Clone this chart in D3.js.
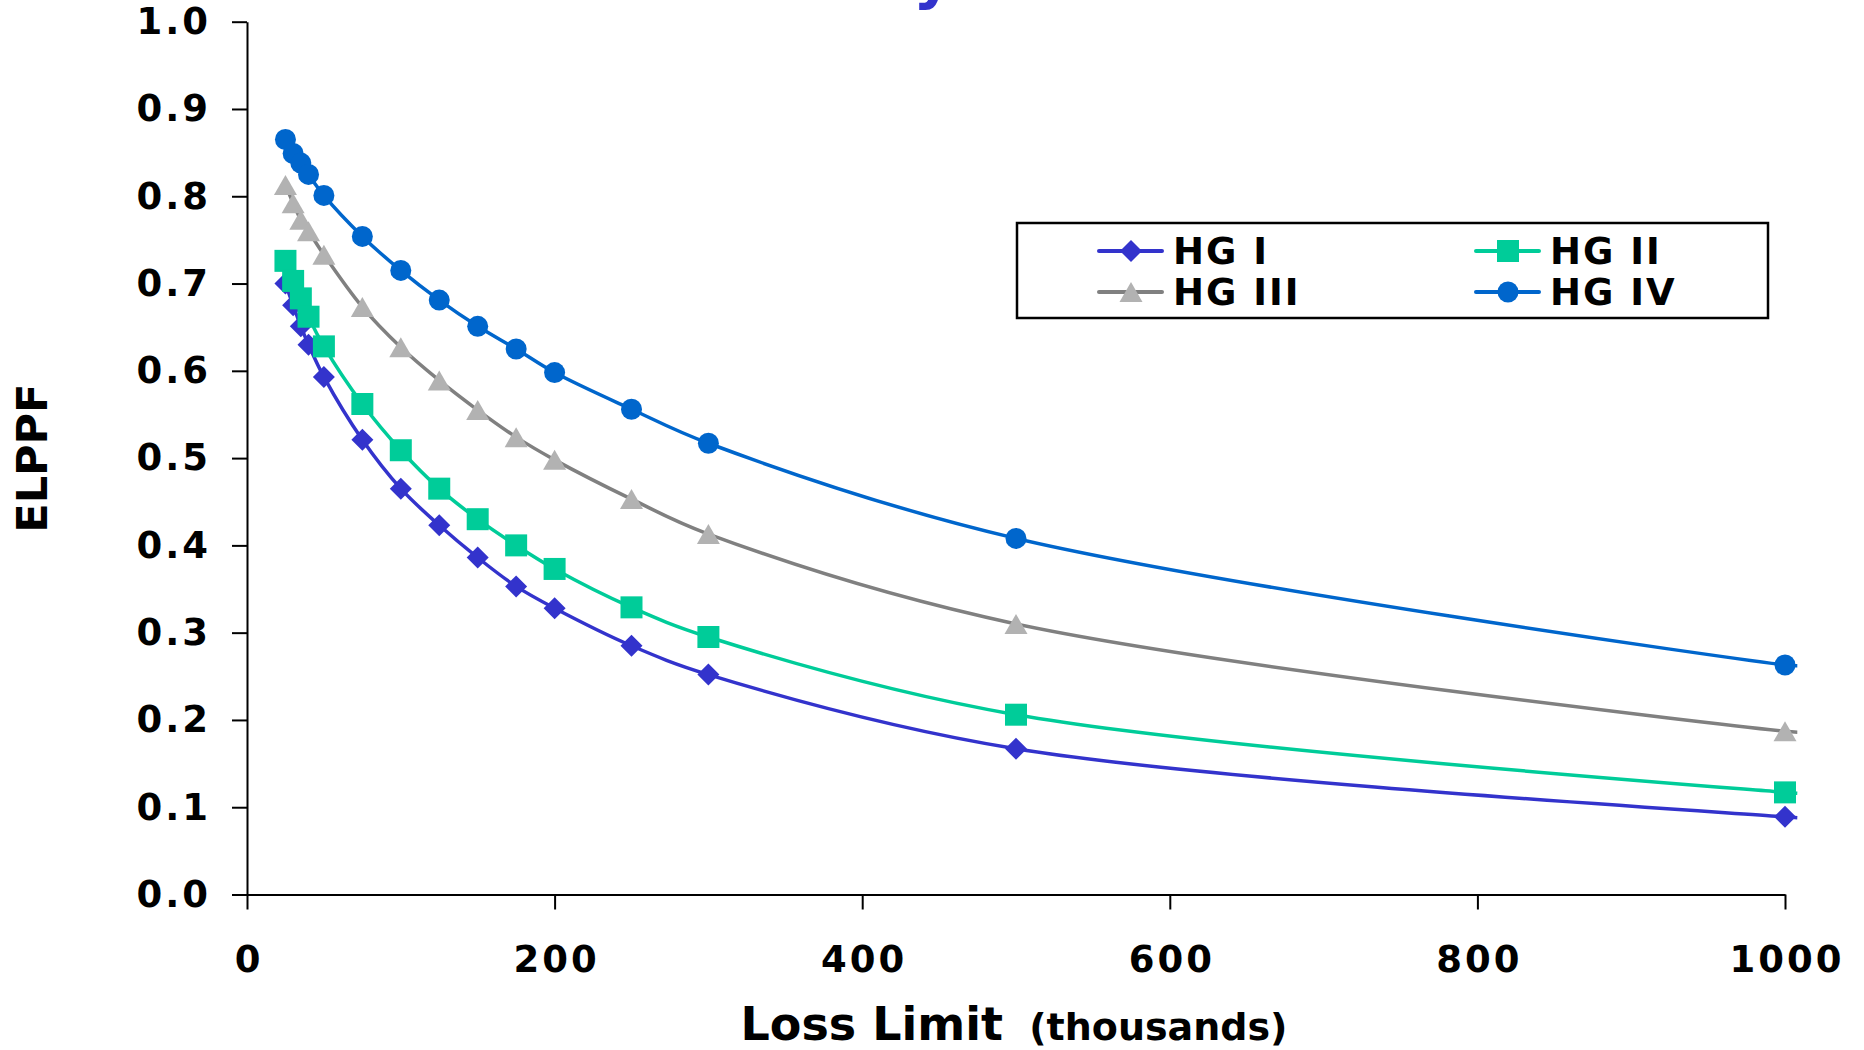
<!DOCTYPE html>
<html>
<head>
<meta charset="utf-8">
<script src="https://cdn.jsdelivr.net/npm/d3@7"></script>
<style>
  html, body { margin: 0; padding: 0; background: #ffffff; }
  svg { display: block; }
  text { font-family: "DejaVu Sans", Verdana, sans-serif; font-weight: bold; }
</style>
</head>
<body>
<svg id="chart" width="1864" height="1050"></svg>
<script>
// ---- data ----
const lossLimit = [25, 30, 35, 40, 50, 75, 100, 125, 150, 175, 200, 250, 300, 500, 1000];
const seriesNames = ["HG I", "HG II", "HG III", "HG IV"];
const hg1 = [0.700, 0.675, 0.651, 0.630, 0.593, 0.521, 0.465, 0.423, 0.386, 0.353, 0.328, 0.285, 0.252, 0.167, 0.089];
const hg2 = [0.726, 0.703, 0.683, 0.662, 0.628, 0.562, 0.509, 0.465, 0.430, 0.400, 0.373, 0.329, 0.295, 0.206, 0.117];
const hg3 = [0.813, 0.792, 0.773, 0.760, 0.733, 0.673, 0.627, 0.589, 0.555, 0.524, 0.498, 0.453, 0.413, 0.310, 0.187];
const hg4 = [0.865, 0.849, 0.838, 0.825, 0.801, 0.754, 0.715, 0.681, 0.651, 0.625, 0.598, 0.556, 0.517, 0.408, 0.263];
// line continues a little past the last marker, to the plot edge
const tailX = 1008;
const tailValues = [0.088, 0.116, 0.186, 0.262];
const xTicks = [0, 200, 400, 600, 800, 1000];
const yTicks = [0.0, 0.1, 0.2, 0.3, 0.4, 0.5, 0.6, 0.7, 0.8, 0.9, 1.0];

// ---- styles ----
const lineColors   = ["#3333CC", "#00CC99", "#808080", "#0066CC"];
const markerColors = ["#3333CC", "#00CC99", "#B2B2B2", "#0066CC"];
const markerShapes = ["diamond", "square", "triangle", "circle"];

const seriesValues = [hg1, hg2, hg3, hg4];
const series = seriesNames.map((name, i) => ({
  name,
  points: lossLimit.map((x, j) => ({ x, y: seriesValues[i][j] })),
  tail: { x: tailX, y: tailValues[i] },
  lineColor: lineColors[i],
  markerColor: markerColors[i],
  shape: markerShapes[i]
}));

const svg = d3.select("#chart");
svg.append("rect").attr("width", 1864).attr("height", 1050).attr("fill", "#ffffff");

const x = d3.scaleLinear().domain([0, 1000]).range([247, 1785]);
const y = d3.scaleLinear().domain([0, 1]).range([894.5, 21.7]);

// cut-off title fragment at the very top
svg.append("text")
  .attr("x", 913).attr("y", -3)
  .attr("font-size", 62)
  .attr("fill", "#3333CC")
  .text("y");

// ---- axes ----
const yAxis = d3.axisLeft(y).tickValues(yTicks).tickFormat(d3.format(".1f"))
  .tickSize(15).tickSizeOuter(0).tickPadding(21);
const gy = svg.append("g").attr("transform", `translate(${x(0)},0)`).call(yAxis);
gy.select(".domain").attr("stroke", "#000").attr("stroke-width", 2);
gy.selectAll(".tick line").attr("stroke", "#000").attr("stroke-width", 2);
gy.selectAll(".tick text").attr("font-size", 37).attr("letter-spacing", "3px")
  .attr("fill", "#000").attr("font-family", "DejaVu Sans").attr("font-weight", "bold");

const xAxis = d3.axisBottom(x).tickValues(xTicks).tickFormat(d3.format("d"))
  .tickSize(15).tickSizeOuter(0).tickPadding(36);
const gx = svg.append("g").attr("transform", `translate(0,${y(0)})`).call(xAxis);
gx.select(".domain").attr("stroke", "#000").attr("stroke-width", 2);
gx.selectAll(".tick line").attr("stroke", "#000").attr("stroke-width", 2);
gx.selectAll(".tick text").attr("font-size", 37).attr("letter-spacing", "3px").attr("dx", "1.5px")
  .attr("fill", "#000").attr("font-family", "DejaVu Sans").attr("font-weight", "bold");

// axis titles
const xt = svg.append("text")
  .attr("x", 1014).attr("y", 1040)
  .attr("text-anchor", "middle")
  .attr("fill", "#000");
xt.append("tspan").attr("font-size", 46).text("Loss Limit");
xt.append("tspan").attr("font-size", 38).attr("dx", 13).text(" (thousands)");

svg.append("text")
  .attr("transform", `translate(47,${(y(0) + y(1)) / 2}) rotate(-90)`)
  .attr("text-anchor", "middle")
  .attr("font-size", 43)
  .attr("fill", "#000")
  .text("ELPPF");

// ---- lines ----
const line = d3.line().x(d => x(d.x)).y(d => y(d.y)).curve(d3.curveCatmullRom.alpha(0.5));
svg.append("g").selectAll("path").data(series).join("path")
  .attr("d", s => line(s.points.concat([s.tail])))
  .attr("fill", "none")
  .attr("stroke", s => s.lineColor)
  .attr("stroke-width", 3.5)
  .attr("stroke-linejoin", "round");

// ---- markers ----
function markerPath(shape, cx, cy) {
  if (shape === "diamond") {
    const r = 11;
    return `M${cx},${cy - r}L${cx + r},${cy}L${cx},${cy + r}L${cx - r},${cy}Z`;
  }
  if (shape === "square") {
    const h = 11;
    return `M${cx - h},${cy - h}H${cx + h}V${cy + h}H${cx - h}Z`;
  }
  if (shape === "triangle") {
    const w = 11.5, hh = 10;
    return `M${cx},${cy - hh}L${cx + w},${cy + hh}L${cx - w},${cy + hh}Z`;
  }
  const r = 10.5;
  return `M${cx - r},${cy}A${r},${r} 0 1,0 ${cx + r},${cy}A${r},${r} 0 1,0 ${cx - r},${cy}Z`;
}

series.forEach(s => {
  svg.append("g").selectAll("path").data(s.points).join("path")
    .attr("d", d => markerPath(s.shape, x(d.x), y(d.y)))
    .attr("fill", s.markerColor);
});

// ---- legend ----
const legend = svg.append("g");
legend.append("rect")
  .attr("x", 1017).attr("y", 223).attr("width", 751).attr("height", 95)
  .attr("fill", "#fff").attr("stroke", "#000").attr("stroke-width", 2.5);

const legendCols = [1099, 1476];
const legendRows = [251, 292];
series.forEach((s, i) => {
  const lx = legendCols[i % 2];
  const ly = legendRows[Math.floor(i / 2)];
  const g = legend.append("g");
  g.append("line").attr("x1", lx).attr("x2", lx + 63).attr("y1", ly).attr("y2", ly)
    .attr("stroke", s.lineColor).attr("stroke-width", 4).attr("stroke-linecap", "round");
  g.append("path").attr("d", markerPath(s.shape, lx + 32, ly)).attr("fill", s.markerColor);
  g.append("text").attr("x", lx + 74).attr("y", ly + 13)
    .attr("font-size", 37).attr("letter-spacing", "2px").attr("fill", "#000")
    .text(s.name);
});
</script>
</body>
</html>
